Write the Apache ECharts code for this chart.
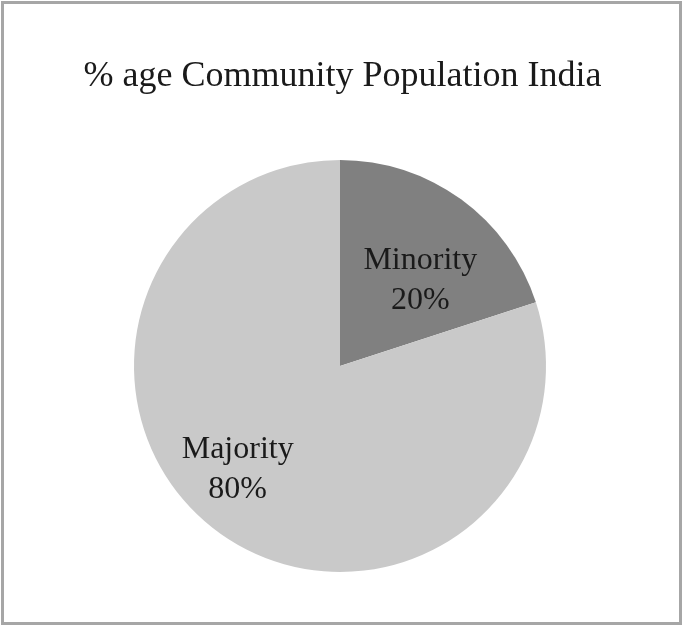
<!DOCTYPE html>
<html>
<head>
<meta charset="utf-8">
<script src="https://cdn.jsdelivr.net/npm/echarts@6/dist/echarts.min.js"></script>
<style>
  html, body { margin: 0; padding: 0; background: #fff; }
  #main { width: 685px; height: 627px; }
</style>
</head>
<body>
<div id="main"></div>
<script>
// data
const categories = ['Minority', 'Majority'];
const shares = [20, 80];
const colors = ['#808080', '#c9c9c9'];
// nudges for the inside labels (Excel puts them a bit off the mid radius)
const labelOffsets = [[18, 0], [-40, 18]];

let myChart = echarts.init(document.getElementById('main'));

const pieData = categories.map((name, i) => ({
  name: name,
  value: shares[i],
  itemStyle: { color: colors[i] },
  label: { offset: labelOffsets[i] },
}));

myChart.setOption({
  animation: false,
  backgroundColor: '#fff',
  title: {
    text: '% age Community Population India',
    left: 'center',
    top: 54,
    textStyle: {
      fontFamily: 'Liberation Serif',
      fontWeight: 'normal',
      fontSize: 36,
      color: '#1a1a1a',
    },
  },
  graphic: [
    {
      type: 'rect',
      shape: { x: 2.5, y: 2.5, width: 678, height: 621 },
      style: { fill: null, stroke: '#a6a6a6', lineWidth: 3 },
      silent: true,
    },
  ],
  series: [
    {
      type: 'pie',
      center: [340, 366],
      radius: 206,
      startAngle: 90,
      clockwise: true,
      data: pieData,
      itemStyle: { borderWidth: 0 },
      labelLine: { show: false },
      label: {
        show: true,
        position: 'inside',
        formatter: p => p.name + '\n' + p.value + '%',
        fontFamily: 'Liberation Serif',
        fontSize: 32,
        lineHeight: 40,
        color: '#1a1a1a',
        textBorderWidth: 0,
      },
      emphasis: { disabled: true },
    },
  ],
});
</script>
</body>
</html>
